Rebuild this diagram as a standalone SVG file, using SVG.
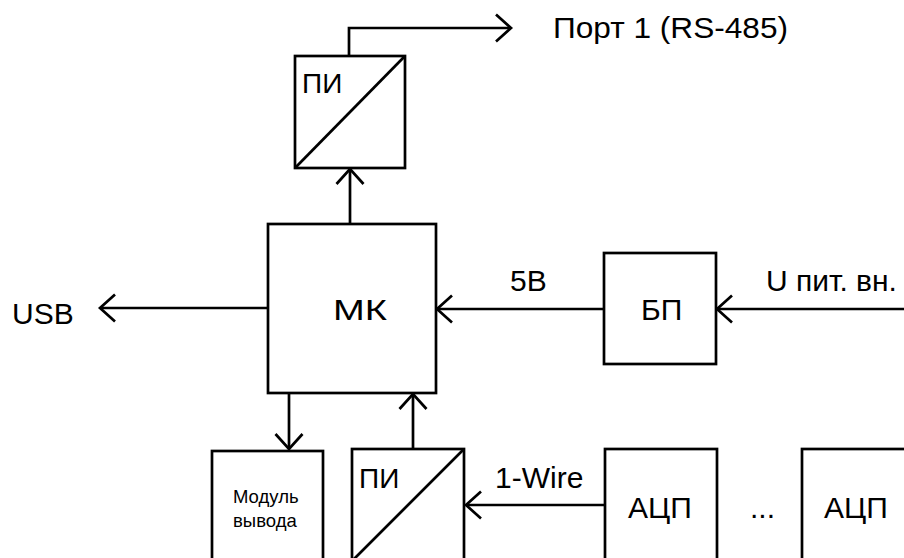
<svg xmlns="http://www.w3.org/2000/svg" width="904" height="558" viewBox="0 0 904 558">
<style>
.b{fill:#fff;stroke:#000;stroke-width:2.7}
.l{fill:none;stroke:#000;stroke-width:2.7}
.c{fill:none;stroke:#000;stroke-width:2.7;marker-end:url(#a)}
text{font-family:"Liberation Sans",Arial,sans-serif;font-size:30px;fill:#000}
.s{font-size:28px}
.m{font-size:18.5px}
</style>
<defs>
<marker id="a" markerUnits="userSpaceOnUse" orient="auto" refX="0" refY="0" markerWidth="40" markerHeight="40" viewBox="-20 -20 40 40" overflow="visible">
<path d="M-15,-13.5 L0,0 L-15,13.5" fill="none" stroke="#000" stroke-width="2.7"/>
</marker>
</defs>
<rect width="904" height="558" fill="#fff"/>
<g id="connectors">
<path class="c" d="M349,56 V28 H511"/>
<path class="c" d="M350,224 V169"/>
<path class="c" d="M268,308 H100"/>
<path class="c" d="M604,309 H437"/>
<path class="c" d="M904,309 H717"/>
<path class="c" d="M289,393 V449"/>
<path class="c" d="M413,449 V394"/>
<path class="c" d="M605,505 H466"/>
</g>
<g id="pi-top">
<rect class="b" x="295" y="56" width="110" height="112"/>
<path class="l" d="M295,168 L405,56"/>
<text class="s" x="302" y="93">ПИ</text>
</g>
<g id="port1"><text x="553" y="38" textLength="235" lengthAdjust="spacingAndGlyphs">Порт 1 (RS-485)</text></g>
<g id="usb"><text x="12" y="324">USB</text></g>
<g id="mk">
<rect class="b" x="268" y="224" width="168" height="169"/>
<text x="333" y="320" textLength="54" lengthAdjust="spacingAndGlyphs">МК</text>
</g>
<g id="bp">
<rect class="b" x="604" y="253" width="112" height="111"/>
<text x="641" y="320">БП</text>
</g>
<g id="label-5v"><text x="510" y="291">5В</text></g>
<g id="label-upit"><text x="766" y="291">U пит. вн.</text></g>
<g id="module">
<rect class="b" x="212" y="451" width="111" height="120"/>
<text class="m" x="233" y="503">Модуль</text>
<text class="m" x="233" y="527">вывода</text>
</g>
<g id="pi-bottom">
<rect class="b" x="352" y="449" width="112" height="112"/>
<path class="l" d="M352,561 L464,449"/>
<text class="s" x="359" y="488">ПИ</text>
</g>
<g id="label-1wire"><text x="495" y="488">1-Wire</text></g>
<g id="adc1">
<rect class="b" x="605" y="449" width="112" height="120"/>
<text x="628" y="518">АЦП</text>
</g>
<g id="dots"><text x="750" y="518">...</text></g>
<g id="adc2">
<rect class="b" x="802" y="449" width="120" height="120"/>
<text x="824" y="518">АЦП</text>
</g>
</svg>
